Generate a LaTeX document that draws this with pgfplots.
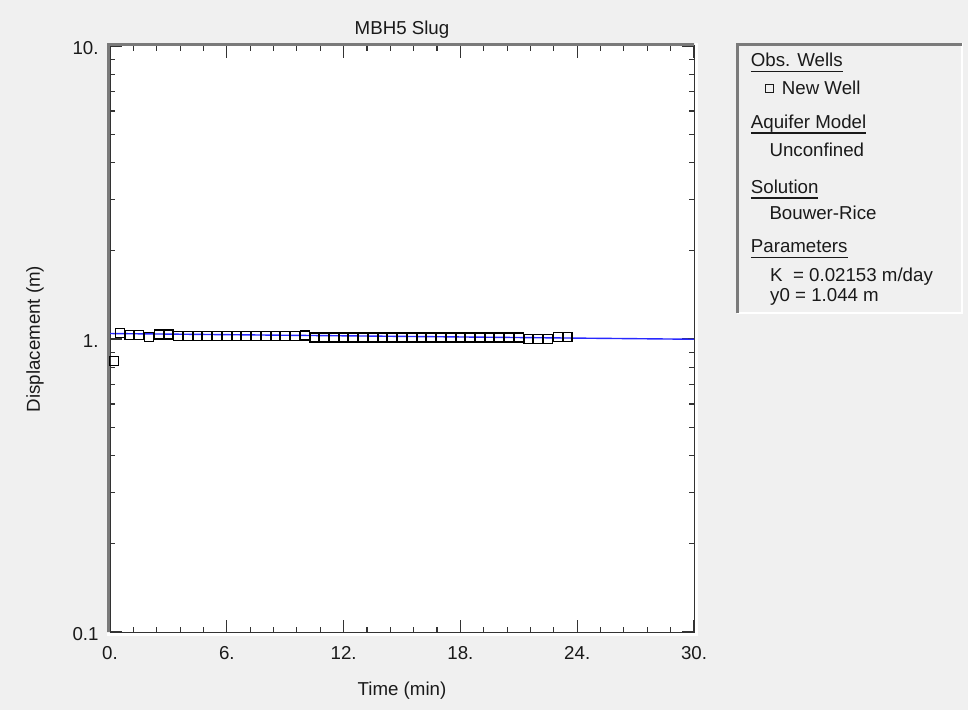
\documentclass[border=0pt]{standalone}
\usepackage{pgfplots}
\pgfplotsset{compat=1.18}
\usepackage{fontspec}
\setmainfont{Liberation Sans}
\definecolor{bg}{HTML}{F0F0F0}
\definecolor{frame}{HTML}{7A7A7A}
\definecolor{txt}{HTML}{1A1A1A}
\newcommand\ul[1]{\setbox0\hbox{#1}\rlap{\rule[-5.3pt]{\wd0}{1.3pt}}\box0}
\pgfplotstableread{
t v
0.2 0.842
0.5 1.048
1.0 1.032
1.5 1.032
2.0 1.018
2.5 1.037
3.0 1.037
3.5 1.024
4.0 1.024
4.5 1.024
5.0 1.024
5.5 1.024
6.0 1.024
6.5 1.024
7.0 1.024
7.5 1.024
8.0 1.024
8.5 1.024
9.0 1.024
9.5 1.024
10.0 1.028
10.5 1.012
11.0 1.012
11.5 1.012
12.0 1.012
12.5 1.012
13.0 1.012
13.5 1.012
14.0 1.012
14.5 1.013
15.0 1.013
15.5 1.013
16.0 1.013
16.5 1.013
17.0 1.013
17.5 1.013
18.0 1.013
18.5 1.013
19.0 1.013
19.5 1.013
20.0 1.013
20.5 1.013
21.0 1.013
21.5 0.998
22.0 0.998
22.5 0.998
23.0 1.016
23.5 1.016
}\obsdata
\begin{document}
\fontsize{18.7}{22}\selectfont
\begin{tikzpicture}[x=1pt,y=1pt]
\useasboundingbox (0,0) rectangle (968,710);
\fill[bg] (0,0) rectangle (968,710);
\begin{axis}[
  at={(110pt,78pt)}, anchor=south west,
  scale only axis, width=584pt, height=586pt,
  xmin=0, xmax=30, ymode=log, ymin=0.1, ymax=10,
  xtick={0,6,12,18,24,30}, xticklabels={0.,6.,12.,18.,24.,30.},
  minor x tick num=4,
  ytick={0.1,1,10}, yticklabels={0.1,1.,10.},
  tick align=inside, major tick length=12pt, minor tick length=5pt,
  tick style={black!80, line width=1.1pt},
  axis line style={black!80, line width=1pt},
  axis background/.style={fill=white},
  /pgf/number format/assume math mode=true,
  ticklabel style={font=\fontsize{18.7}{22}\selectfont, text=txt},
  xticklabel style={yshift=-8pt},
  yticklabel style={xshift=-5pt, yshift=-2pt},
  title={MBH5 Slug},
  title style={at={(0.5,1)}, anchor=base, yshift=5.5pt, font=\fontsize{18.7}{22}\selectfont, text=txt},
  xlabel={Time (min)},
  xlabel style={at={(0.5,0)}, anchor=base, yshift=-63pt, font=\fontsize{18.7}{22}\selectfont, text=txt},
  ylabel={Displacement (m)},
  ylabel style={at={(0,0.5)}, anchor=center, yshift=75pt, font=\fontsize{18.7}{22}\selectfont, text=txt},
  clip=false,
]
\addplot[color={rgb,255:red,40;green,40;blue,255}, line width=1.4pt, forget plot] coordinates {(0,1.044) (30,0.998)};
\addplot[only marks, mark=square, mark size=4.5pt, mark options={black, line width=1.3pt}] table[x=t,y=v] {\obsdata};
\draw[frame, line width=3pt] ([xshift=-1.5pt]rel axis cs:0,0) -- ([xshift=-1.5pt,yshift=1.5pt]rel axis cs:0,1) -- ([yshift=1.5pt]rel axis cs:1,1);
\draw[white, line width=3pt] ([xshift=-3pt,yshift=-2pt]rel axis cs:0,0) -- ([xshift=2pt,yshift=-2pt]rel axis cs:1,0) -- ([xshift=2pt,yshift=3pt]rel axis cs:1,1);
\end{axis}
% legend panel
\draw[white, line width=1.5pt] (737,397) -- (962,397) -- (962,667);
\draw[frame, line width=3pt] (737.5,397) -- (737.5,665.5) -- (962,665.5);
\begin{scope}[every node/.style={inner sep=0pt, anchor=base west, text=txt, font=\fontsize{18.7}{22}\selectfont}]
\node at (750.7,643.3) {\ul{Obs. Wells}};
\node at (765,615) {\setlength\fboxsep{0pt}\setlength\fboxrule{1pt}\raisebox{3.3pt}{\fbox{\rule{0pt}{7pt}\rule{7pt}{0pt}}}\hspace{7.7pt}New Well};
\node at (750.7,581.7) {\ul{Aquifer Model}};
\node at (769.3,553.3) {Unconfined};
\node at (750.7,516.7) {\ul{Solution}};
\node at (769.3,490) {Bouwer-Rice};
\node at (750.7,457) {\ul{Parameters}};
\node at (770,428.3) {K\ \ = 0.02153 m/day};
\node at (770,408.3) {y0 = 1.044 m};
\end{scope}
\end{tikzpicture}
\end{document}
